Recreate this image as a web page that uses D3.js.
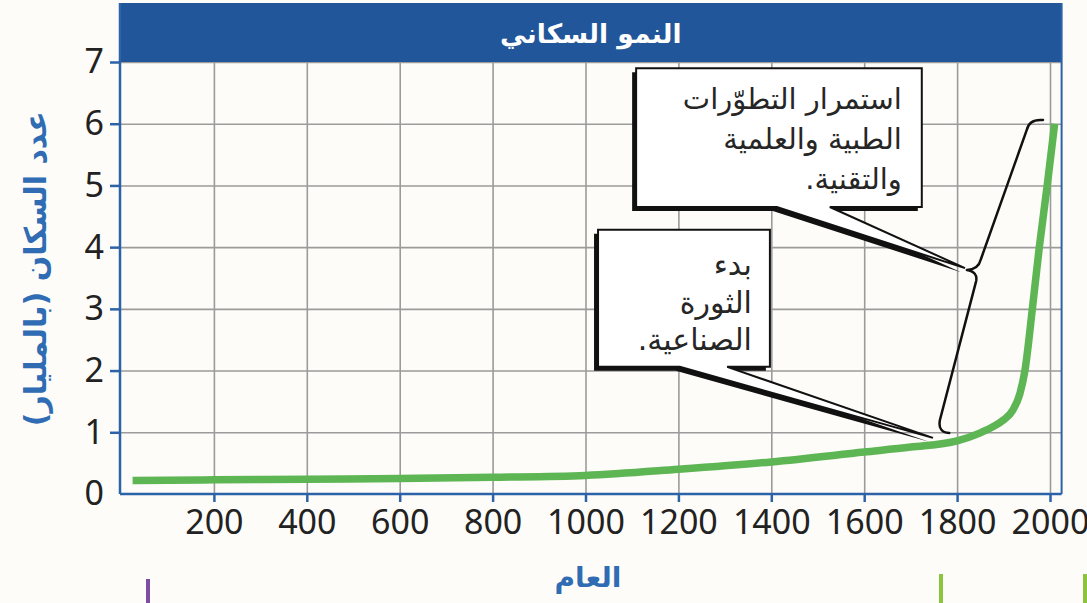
<!DOCTYPE html>
<html>
<head>
<meta charset="utf-8">
<script src="https://cdn.jsdelivr.net/npm/d3@7"></script>
<style>
    body { margin: 0; background: #fdfcf8; }
    svg { display: block; }
</style>
</head>
<body>
<div id="chart"></div>
<script>
// data
var years = [25, 200, 400, 600, 800, 1000, 1200, 1400, 1600, 1700, 1800, 1850, 1875, 1900, 1920, 1935, 1946, 1962, 1977, 1994, 2010];
var population = [0.22, 0.23, 0.24, 0.25, 0.27, 0.30, 0.40, 0.52, 0.68, 0.76, 0.86, 0.99, 1.08, 1.2, 1.36, 1.62, 2.0, 3.0, 4.0, 5.0, 6.0];
var xTicks = [200, 400, 600, 800, 1000, 1200, 1400, 1600, 1800, 2000];
var yTicks = [0, 1, 2, 3, 4, 5, 6, 7];

var title = "النمو السكاني";
var xLabel = "العام";
var yLabel = "عدد السكان (بالمليار)";
var note1 = ["استمرار التطوّرات", "الطبية والعلمية", "والتقنية."];
var note2 = ["بدء", "الثورة", "الصناعية."];

// SVG drawing area
var width = 1087, height = 603;
var svg = d3.select("#chart").append("svg")
    .attr("width", width)
    .attr("height", height);

var blue = "#2c62a8";
var x = d3.scaleLinear().domain([0, 2000]).range([121, 1050]);
var y = d3.scaleLinear().domain([0, 7]).range([494, 62]);
var xMax = 2025;

// grid
svg.append("g")
    .attr("transform", "translate(0,494)")
    .call(d3.axisBottom(x).tickValues(xTicks).tickSize(-432).tickFormat(""))
    .call(function (g) {
        g.select(".domain").remove();
        g.selectAll("line").attr("stroke", "#9b9b9b").attr("stroke-width", 1.6);
    });
svg.append("g")
    .attr("transform", "translate(121,0)")
    .call(d3.axisLeft(y).tickValues(yTicks.slice(1)).tickSize(-(x(xMax) - 121)).tickFormat(""))
    .call(function (g) {
        g.select(".domain").remove();
        g.selectAll("line").attr("stroke", "#9b9b9b").attr("stroke-width", 1.6);
    });

// title bar
svg.append("rect")
    .attr("x", 120).attr("y", 3)
    .attr("width", x(xMax) - 120).attr("height", y(7) - 3)
    .attr("fill", "#22569a");
svg.append("text")
    .attr("x", (120 + x(xMax)) / 2).attr("y", 33)
    .attr("text-anchor", "middle").attr("dominant-baseline", "central")
    .attr("font-family", "DejaVu Sans").attr("font-weight", "bold")
    .attr("font-size", 26.5).attr("fill", "#fff")
    .text(title);

// frame
svg.append("line")
    .attr("x1", x(xMax)).attr("x2", x(xMax)).attr("y1", 3).attr("y2", 494)
    .attr("stroke", blue).attr("stroke-width", 2);

// axes
svg.append("g")
    .attr("transform", "translate(0,494)")
    .call(d3.axisBottom(x).tickValues(xTicks).tickFormat(d3.format("d")).tickSize(8).tickPadding(8).tickSizeOuter(0))
    .call(function (g) {
        g.select(".domain").attr("d", "M120,0H" + x(xMax)).attr("stroke", blue).attr("stroke-width", 2.5);
        g.selectAll("line").attr("stroke", blue).attr("stroke-width", 2.5);
        g.selectAll("text").attr("font-family", "Noto Sans").attr("font-size", 34).attr("fill", "#222");
    });
svg.append("g")
    .attr("transform", "translate(120,0)")
    .call(d3.axisLeft(y).tickValues(yTicks).tickFormat(d3.format("d")).tickSize(10).tickPadding(6).tickSizeOuter(0))
    .call(function (g) {
        g.select(".domain").attr("d", "M0,3V494").attr("stroke", blue).attr("stroke-width", 2.5);
        g.selectAll("line").attr("stroke", blue).attr("stroke-width", 2.5);
        g.selectAll(".tick").filter(function (d) { return d === 0; }).select("line").remove();
        g.selectAll("text").attr("font-family", "Noto Sans").attr("font-size", 34).attr("fill", "#222");
    });

// axis titles
svg.append("text")
    .attr("transform", "translate(35," + y(3.65) + ") rotate(-90)")
    .attr("text-anchor", "middle").attr("dominant-baseline", "central")
    .attr("direction", "rtl")
    .attr("font-family", "DejaVu Sans").attr("font-weight", "bold")
    .attr("font-size", 30).attr("fill", "#2f6cb3")
    .text(yLabel);
svg.append("text")
    .attr("x", 588).attr("y", 577)
    .attr("text-anchor", "middle").attr("dominant-baseline", "central")
    .attr("font-family", "DejaVu Sans").attr("font-weight", "bold")
    .attr("font-size", 28).attr("fill", "#2f6cb3")
    .text(xLabel);

// population curve
var line = d3.line()
    .x(function (d, i) { return x(years[i]); })
    .y(function (d) { return y(d); })
    .curve(d3.curveMonotoneX);
svg.append("path")
    .datum(population)
    .attr("d", line)
    .attr("fill", "none")
    .attr("stroke", "#5db553")
    .attr("stroke-width", 7.5);

// brace over 1800-2000
function p(yr, v) { return x(yr) + "," + y(v); }
svg.append("path")
    .attr("d", "M" + p(1985, 6.06) + "Q" + p(1955, 6.08) + " " + p(1950, 5.9) +
        "L" + p(1851, 3.8) + "Q" + p(1846, 3.64) + " " + p(1821, 3.63) +
        "Q" + p(1845, 3.6) + " " + p(1841, 3.45) +
        "L" + p(1763, 1.2) + "Q" + p(1758, 1.0) + " " + p(1783, 0.99))
    .attr("fill", "none").attr("stroke", "#111").attr("stroke-width", 2.5)
    .attr("stroke-linecap", "round").attr("stroke-linejoin", "round");

// callouts
function callout(box, lines, lineVals, fontSize) {
    var l = x(box.left), r = x(box.right), t = y(box.top), b = y(box.bottom);
    var d = "M" + l + "," + t + "H" + r + "V" + b + "H" + x(box.tailR) +
        "L" + p(box.apexYr, box.apexVal) + "L" + x(box.tailL) + "," + b + "H" + l + "Z";
    svg.append("path").attr("d", d).attr("fill", "#111")
        .attr("transform", "translate(-4,4)");
    svg.append("path").attr("d", d).attr("fill", "#fff")
        .attr("stroke", "#111").attr("stroke-width", 2);
    svg.append("g").selectAll("text")
        .data(lines)
        .enter().append("text")
        .attr("x", r - box.pad)
        .attr("y", function (d, i) { return y(lineVals[i]); })
        .attr("direction", "rtl")
        .attr("text-anchor", "start")
        .attr("dominant-baseline", "central")
        .attr("font-family", "DejaVu Sans")
        .attr("font-size", fontSize)
        .attr("fill", "#262626")
        .text(function (d) { return d; });
}

callout({left: 1109, right: 1724, top: 6.9, bottom: 4.65, tailL: 1412, tailR: 1526, apexYr: 1817, apexVal: 3.66, pad: 20},
    note1, [6.4, 5.75, 5.1], 29);
callout({left: 1027, right: 1397, top: 4.28, bottom: 2.06, tailL: 1203, tailR: 1305, apexYr: 1748, apexVal: 0.91, pad: 18},
    note2, [3.72, 3.1, 2.5], 30);

// page edge marks
svg.append("rect").attr("x", 146).attr("y", 579).attr("width", 4).attr("height", 24).attr("fill", "#7b4ea3");
svg.append("rect").attr("x", 939).attr("y", 574).attr("width", 4).attr("height", 29).attr("fill", "#8cc43e");
svg.append("rect").attr("x", 1083).attr("y", 574).attr("width", 4).attr("height", 29).attr("fill", "#8cc43e");
</script>
</body>
</html>
